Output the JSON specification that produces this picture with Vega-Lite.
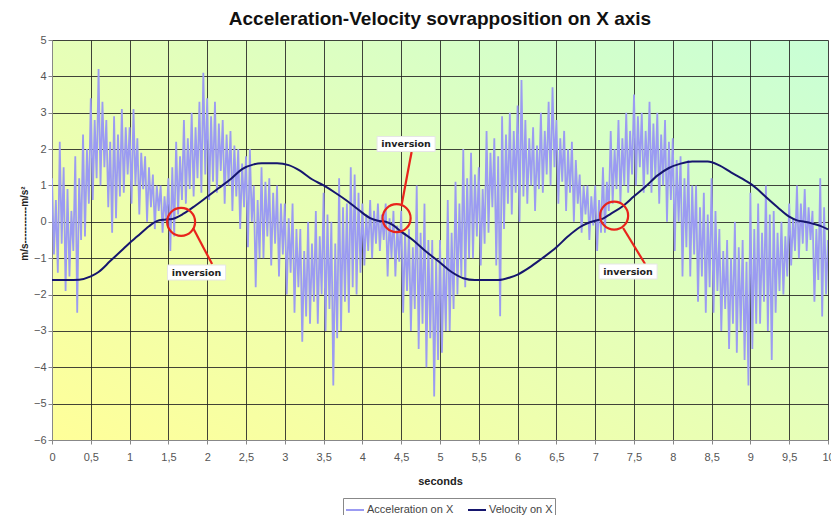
{
  "$schema": "https://vega.github.io/schema/vega-lite/v6.json",
  "width": 776,
  "height": 400,
  "autosize": {"type": "none"},
  "padding": {"left": 52, "top": 40, "right": 3, "bottom": 75},
  "background": "white",
  "view": {
    "stroke": null,
    "fill": {"gradient": "linear", "x1": 0, "y1": 1, "x2": 1, "y2": 0,
      "stops": [{"offset": 0, "color": "#ffff99"}, {"offset": 0.5, "color": "#e6ffb8"}, {"offset": 1, "color": "#c8ffd6"}]}
  },
  "title": {"text": "Acceleration-Velocity sovrapposition on X axis", "font": "Liberation Sans", "fontSize": 19, "fontWeight": "bold", "color": "#111111", "offset": 5, "anchor": "middle"},
  "config": {
    "font": "Liberation Sans",
    "axis": {"gridColor": "#222222", "gridOpacity": 0.85, "gridWidth": 1, "domainColor": "#888888", "tickColor": "#888888", "tickSize": 4, "labelColor": "#555555", "labelFontSize": 11, "labelFont": "Liberation Sans", "titleFont": "Liberation Sans", "titleFontWeight": "bold", "titleColor": "#222222", "labelOverlap": false},
    "axisX": {"tickCount": 20, "labelFlush": false, "labelPadding": 7, "titlePadding": 13, "titleFontSize": 11, "labelExpr": "replace(format(datum.value, ''), '.', ',')"},
    "axisY": {"tickCount": 11, "labelPadding": 2, "titlePadding": 4, "titleFontSize": 10}
  },
  "datasets": {
    "acc": [
      {"t":0,"a":1.2},{"t":0.025,"a":-0.9},{"t":0.05,"a":0.6},{"t":0.075,"a":-1.4},
      {"t":0.1,"a":2.2},{"t":0.125,"a":-0.6},{"t":0.15,"a":1.5},{"t":0.175,"a":-1.9},
      {"t":0.2,"a":0.9},{"t":0.225,"a":-1.5},{"t":0.25,"a":0.3},{"t":0.275,"a":-0.8},
      {"t":0.3,"a":1.8},{"t":0.325,"a":-2.5},{"t":0.35,"a":1.2},{"t":0.375,"a":-0.5},
      {"t":0.4,"a":2.4},{"t":0.425,"a":-0.4},{"t":0.45,"a":2.0},{"t":0.475,"a":0.5},
      {"t":0.5,"a":3.4},{"t":0.525,"a":0.6},{"t":0.55,"a":2.8},{"t":0.575,"a":1.2},
      {"t":0.6,"a":4.2},{"t":0.625,"a":1.0},{"t":0.65,"a":3.3},{"t":0.675,"a":1.5},
      {"t":0.7,"a":2.8},{"t":0.725,"a":0.4},{"t":0.75,"a":2.2},{"t":0.775,"a":-0.3},
      {"t":0.8,"a":2.9},{"t":0.825,"a":0.1},{"t":0.85,"a":2.4},{"t":0.875,"a":0.7},
      {"t":0.9,"a":3.1},{"t":0.925,"a":0.8},{"t":0.95,"a":2.6},{"t":0.975,"a":1.3},
      {"t":1.0,"a":2.6},{"t":1.025,"a":0.5},{"t":1.05,"a":3.1},{"t":1.075,"a":1.0},
      {"t":1.1,"a":2.3},{"t":1.125,"a":0.2},{"t":1.15,"a":1.9},{"t":1.175,"a":0.9},
      {"t":1.2,"a":1.8},{"t":1.225,"a":0.0},{"t":1.25,"a":1.5},{"t":1.275,"a":0.4},
      {"t":1.3,"a":1.3},{"t":1.325,"a":-0.2},{"t":1.35,"a":1.0},{"t":1.375,"a":0.3},
      {"t":1.4,"a":1.0},{"t":1.425,"a":-0.3},{"t":1.45,"a":0.7},{"t":1.475,"a":0.0},
      {"t":1.5,"a":1.2},{"t":1.525,"a":-0.8},{"t":1.55,"a":1.5},{"t":1.575,"a":-0.4},
      {"t":1.6,"a":2.2},{"t":1.625,"a":0.2},{"t":1.65,"a":1.8},{"t":1.675,"a":0.6},
      {"t":1.7,"a":2.8},{"t":1.725,"a":0.5},{"t":1.75,"a":2.3},{"t":1.775,"a":0.9},
      {"t":1.8,"a":3.0},{"t":1.825,"a":0.7},{"t":1.85,"a":2.6},{"t":1.875,"a":1.2},
      {"t":1.9,"a":3.3},{"t":1.925,"a":0.8},{"t":1.95,"a":4.1},{"t":1.975,"a":1.3},
      {"t":2.0,"a":3.4},{"t":2.025,"a":0.6},{"t":2.05,"a":2.9},{"t":2.075,"a":1.1},
      {"t":2.1,"a":3.3},{"t":2.125,"a":0.8},{"t":2.15,"a":2.7},{"t":2.175,"a":1.4},
      {"t":2.2,"a":2.8},{"t":2.225,"a":0.5},{"t":2.25,"a":2.4},{"t":2.275,"a":1.0},
      {"t":2.3,"a":2.5},{"t":2.325,"a":0.3},{"t":2.35,"a":2.1},{"t":2.375,"a":0.7},
      {"t":2.4,"a":2.0},{"t":2.425,"a":-0.2},{"t":2.45,"a":1.6},{"t":2.475,"a":0.4},
      {"t":2.5,"a":1.8},{"t":2.525,"a":-0.7},{"t":2.55,"a":2.0},{"t":2.575,"a":0.0},
      {"t":2.6,"a":1.0},{"t":2.625,"a":-1.8},{"t":2.65,"a":0.6},{"t":2.675,"a":-1.0},
      {"t":2.7,"a":1.5},{"t":2.725,"a":-1.0},{"t":2.75,"a":1.1},{"t":2.775,"a":-0.4},
      {"t":2.8,"a":1.2},{"t":2.825,"a":-1.2},{"t":2.85,"a":0.8},{"t":2.875,"a":-0.6},
      {"t":2.9,"a":1.0},{"t":2.925,"a":-1.5},{"t":2.95,"a":0.5},{"t":2.975,"a":-0.9},
      {"t":3.0,"a":0.5},{"t":3.025,"a":-2.0},{"t":3.05,"a":0.1},{"t":3.075,"a":-1.4},
      {"t":3.1,"a":0.5},{"t":3.125,"a":-2.5},{"t":3.15,"a":-0.2},{"t":3.175,"a":-1.8},
      {"t":3.2,"a":-0.2},{"t":3.225,"a":-3.3},{"t":3.25,"a":-0.8},{"t":3.275,"a":-2.6},
      {"t":3.3,"a":0.0},{"t":3.325,"a":-2.8},{"t":3.35,"a":-0.6},{"t":3.375,"a":-2.2},
      {"t":3.4,"a":0.3},{"t":3.425,"a":-2.8},{"t":3.45,"a":-0.4},{"t":3.475,"a":-2.0},
      {"t":3.5,"a":0.8},{"t":3.525,"a":-3.0},{"t":3.55,"a":0.2},{"t":3.575,"a":-2.4},
      {"t":3.6,"a":0.0},{"t":3.625,"a":-4.5},{"t":3.65,"a":-0.6},{"t":3.675,"a":-3.2},
      {"t":3.7,"a":1.2},{"t":3.725,"a":-3.0},{"t":3.75,"a":0.4},{"t":3.775,"a":-2.2},
      {"t":3.8,"a":0.5},{"t":3.825,"a":-2.5},{"t":3.85,"a":1.5},{"t":3.875,"a":-1.8},
      {"t":3.9,"a":1.3},{"t":3.925,"a":-2.0},{"t":3.95,"a":0.8},{"t":3.975,"a":-1.4},
      {"t":4.0,"a":0.5},{"t":4.025,"a":-1.2},{"t":4.05,"a":0.2},{"t":4.075,"a":-0.8},
      {"t":4.1,"a":0.6},{"t":4.125,"a":-1.0},{"t":4.15,"a":0.3},{"t":4.175,"a":-0.6},
      {"t":4.2,"a":0.5},{"t":4.225,"a":-0.8},{"t":4.25,"a":0.2},{"t":4.275,"a":-0.5},
      {"t":4.3,"a":0.5},{"t":4.325,"a":-1.5},{"t":4.35,"a":0.1},{"t":4.375,"a":-1.0},
      {"t":4.4,"a":0.3},{"t":4.425,"a":-1.5},{"t":4.45,"a":-0.1},{"t":4.475,"a":-1.1},
      {"t":4.5,"a":0.3},{"t":4.525,"a":-2.5},{"t":4.55,"a":-0.3},{"t":4.575,"a":-1.9},
      {"t":4.6,"a":-0.2},{"t":4.625,"a":-3.0},{"t":4.65,"a":-0.7},{"t":4.675,"a":-2.4},
      {"t":4.7,"a":1.0},{"t":4.725,"a":-3.5},{"t":4.75,"a":-0.3},{"t":4.775,"a":-2.8},
      {"t":4.8,"a":0.5},{"t":4.825,"a":-4.0},{"t":4.85,"a":-0.5},{"t":4.875,"a":-3.2},
      {"t":4.9,"a":-0.5},{"t":4.925,"a":-4.8},{"t":4.95,"a":-1.0},{"t":4.975,"a":-3.8},
      {"t":5.0,"a":-0.5},{"t":5.025,"a":-3.6},{"t":5.05,"a":-1.0},{"t":5.075,"a":-3.0},
      {"t":5.1,"a":0.6},{"t":5.125,"a":-3.0},{"t":5.15,"a":-0.3},{"t":5.175,"a":-2.4},
      {"t":5.2,"a":1.1},{"t":5.225,"a":-2.0},{"t":5.25,"a":0.5},{"t":5.275,"a":-1.5},
      {"t":5.3,"a":2.0},{"t":5.325,"a":-1.8},{"t":5.35,"a":1.2},{"t":5.375,"a":-1.0},
      {"t":5.4,"a":1.9},{"t":5.425,"a":-1.0},{"t":5.45,"a":1.3},{"t":5.475,"a":-0.4},
      {"t":5.5,"a":1.5},{"t":5.525,"a":-1.2},{"t":5.55,"a":0.9},{"t":5.575,"a":-0.6},
      {"t":5.6,"a":2.5},{"t":5.625,"a":-0.3},{"t":5.65,"a":1.9},{"t":5.675,"a":0.4},
      {"t":5.7,"a":2.3},{"t":5.725,"a":-1.2},{"t":5.75,"a":1.8},{"t":5.775,"a":-2.6},
      {"t":5.8,"a":2.9},{"t":5.825,"a":-0.2},{"t":5.85,"a":2.4},{"t":5.875,"a":0.5},
      {"t":5.9,"a":3.0},{"t":5.925,"a":0.2},{"t":5.95,"a":2.5},{"t":5.975,"a":0.8},
      {"t":6.0,"a":3.2},{"t":6.025,"a":0.0},{"t":6.05,"a":3.9},{"t":6.075,"a":0.7},
      {"t":6.1,"a":2.8},{"t":6.125,"a":0.5},{"t":6.15,"a":2.3},{"t":6.175,"a":1.0},
      {"t":6.2,"a":2.6},{"t":6.225,"a":0.3},{"t":6.25,"a":2.1},{"t":6.275,"a":0.9},
      {"t":6.3,"a":3.0},{"t":6.325,"a":0.8},{"t":6.35,"a":2.5},{"t":6.375,"a":1.3},
      {"t":6.4,"a":3.3},{"t":6.425,"a":1.0},{"t":6.45,"a":3.7},{"t":6.475,"a":1.5},
      {"t":6.5,"a":2.8},{"t":6.525,"a":0.5},{"t":6.55,"a":2.3},{"t":6.575,"a":1.1},
      {"t":6.6,"a":2.5},{"t":6.625,"a":0.3},{"t":6.65,"a":2.0},{"t":6.675,"a":0.8},
      {"t":6.7,"a":2.2},{"t":6.725,"a":0.0},{"t":6.75,"a":1.7},{"t":6.775,"a":0.5},
      {"t":6.8,"a":1.3},{"t":6.825,"a":-0.3},{"t":6.85,"a":1.0},{"t":6.875,"a":0.2},
      {"t":6.9,"a":1.0},{"t":6.925,"a":-0.5},{"t":6.95,"a":0.7},{"t":6.975,"a":-0.1},
      {"t":7.0,"a":1.0},{"t":7.025,"a":-0.8},{"t":7.05,"a":0.6},{"t":7.075,"a":-0.3},
      {"t":7.1,"a":1.5},{"t":7.125,"a":-0.3},{"t":7.15,"a":1.1},{"t":7.175,"a":0.3},
      {"t":7.2,"a":2.5},{"t":7.225,"a":0.5},{"t":7.25,"a":2.0},{"t":7.275,"a":0.9},
      {"t":7.3,"a":2.8},{"t":7.325,"a":0.5},{"t":7.35,"a":2.3},{"t":7.375,"a":1.0},
      {"t":7.4,"a":3.0},{"t":7.425,"a":0.8},{"t":7.45,"a":2.5},{"t":7.475,"a":1.3},
      {"t":7.5,"a":3.5},{"t":7.525,"a":1.0},{"t":7.55,"a":2.9},{"t":7.575,"a":1.5},
      {"t":7.6,"a":3.0},{"t":7.625,"a":0.8},{"t":7.65,"a":2.5},{"t":7.675,"a":1.3},
      {"t":7.7,"a":3.3},{"t":7.725,"a":0.8},{"t":7.75,"a":2.7},{"t":7.775,"a":1.2},
      {"t":7.8,"a":3.0},{"t":7.825,"a":0.5},{"t":7.85,"a":2.4},{"t":7.875,"a":1.0},
      {"t":7.9,"a":2.8},{"t":7.925,"a":0.0},{"t":7.95,"a":2.2},{"t":7.975,"a":0.6},
      {"t":8.0,"a":2.3},{"t":8.025,"a":-0.8},{"t":8.05,"a":1.7},{"t":8.075,"a":0.0},
      {"t":8.1,"a":1.8},{"t":8.125,"a":-1.5},{"t":8.15,"a":1.2},{"t":8.175,"a":-0.7},
      {"t":8.2,"a":1.7},{"t":8.225,"a":-1.5},{"t":8.25,"a":1.0},{"t":8.275,"a":-0.9},
      {"t":8.3,"a":1.0},{"t":8.325,"a":-2.2},{"t":8.35,"a":0.4},{"t":8.375,"a":-1.5},
      {"t":8.4,"a":0.8},{"t":8.425,"a":-2.5},{"t":8.45,"a":0.2},{"t":8.475,"a":-1.8},
      {"t":8.5,"a":1.2},{"t":8.525,"a":-2.5},{"t":8.55,"a":0.3},{"t":8.575,"a":-1.9},
      {"t":8.6,"a":-0.2},{"t":8.625,"a":-3.0},{"t":8.65,"a":-0.8},{"t":8.675,"a":-2.4},
      {"t":8.7,"a":-0.5},{"t":8.725,"a":-3.5},{"t":8.75,"a":-1.0},{"t":8.775,"a":-2.8},
      {"t":8.8,"a":0.0},{"t":8.825,"a":-3.6},{"t":8.85,"a":-0.7},{"t":8.875,"a":-3.0},
      {"t":8.9,"a":-0.5},{"t":8.925,"a":-3.8},{"t":8.95,"a":-1.1},{"t":8.975,"a":-4.5},
      {"t":9.0,"a":0.8},{"t":9.025,"a":-3.5},{"t":9.05,"a":-0.2},{"t":9.075,"a":-2.8},
      {"t":9.1,"a":0.5},{"t":9.125,"a":-2.8},{"t":9.15,"a":-0.3},{"t":9.175,"a":-2.2},
      {"t":9.2,"a":1.0},{"t":9.225,"a":-3.0},{"t":9.25,"a":0.2},{"t":9.275,"a":-3.8},
      {"t":9.3,"a":0.3},{"t":9.325,"a":-2.5},{"t":9.35,"a":-0.3},{"t":9.375,"a":-1.9},
      {"t":9.4,"a":0.0},{"t":9.425,"a":-2.0},{"t":9.45,"a":-0.4},{"t":9.475,"a":-1.5},
      {"t":9.5,"a":0.5},{"t":9.525,"a":-1.2},{"t":9.55,"a":0.1},{"t":9.575,"a":-0.8},
      {"t":9.6,"a":1.0},{"t":9.625,"a":-1.0},{"t":9.65,"a":0.5},{"t":9.675,"a":-0.6},
      {"t":9.7,"a":0.9},{"t":9.725,"a":-0.8},{"t":9.75,"a":0.4},{"t":9.775,"a":-0.5},
      {"t":9.8,"a":0.3},{"t":9.825,"a":-2.2},{"t":9.85,"a":-0.2},{"t":9.875,"a":-1.6},
      {"t":9.9,"a":1.2},{"t":9.925,"a":-2.6},{"t":9.95,"a":0.4},{"t":9.975,"a":-2.0},
      {"t":10.0,"a":-0.5}
    ],
    "vel": [
      {"t":0,"v":-1.6},{"t":0.2,"v":-1.6},{"t":0.35,"v":-1.59},{"t":0.5,"v":-1.5},{"t":0.6,"v":-1.38},
      {"t":0.75,"v":-1.08},{"t":0.9,"v":-0.78},{"t":1.0,"v":-0.58},{"t":1.1,"v":-0.4},{"t":1.25,"v":-0.12},
      {"t":1.35,"v":0.02},{"t":1.45,"v":0.06},{"t":1.55,"v":0.08},{"t":1.7,"v":0.23},{"t":1.85,"v":0.45},
      {"t":2.0,"v":0.69},{"t":2.15,"v":0.93},{"t":2.3,"v":1.17},{"t":2.45,"v":1.45},{"t":2.6,"v":1.58},
      {"t":2.7,"v":1.61},{"t":2.9,"v":1.61},{"t":3.05,"v":1.56},{"t":3.2,"v":1.4},{"t":3.35,"v":1.17},
      {"t":3.5,"v":1.0},{"t":3.65,"v":0.8},{"t":3.8,"v":0.58},{"t":3.95,"v":0.33},{"t":4.1,"v":0.1},
      {"t":4.2,"v":0.03},{"t":4.3,"v":0.0},{"t":4.4,"v":-0.1},{"t":4.5,"v":-0.27},{"t":4.65,"v":-0.5},
      {"t":4.8,"v":-0.78},{"t":5.0,"v":-1.12},{"t":5.15,"v":-1.38},{"t":5.3,"v":-1.55},{"t":5.45,"v":-1.6},
      {"t":5.75,"v":-1.6},{"t":5.9,"v":-1.53},{"t":6.0,"v":-1.45},{"t":6.15,"v":-1.26},{"t":6.3,"v":-1.03},
      {"t":6.5,"v":-0.7},{"t":6.65,"v":-0.4},{"t":6.8,"v":-0.15},{"t":6.9,"v":-0.04},{"t":7.0,"v":0.03},
      {"t":7.1,"v":0.09},{"t":7.2,"v":0.22},{"t":7.35,"v":0.42},{"t":7.5,"v":0.7},{"t":7.65,"v":0.97},
      {"t":7.8,"v":1.27},{"t":7.95,"v":1.48},{"t":8.1,"v":1.6},{"t":8.25,"v":1.66},{"t":8.45,"v":1.66},
      {"t":8.6,"v":1.55},{"t":8.75,"v":1.36},{"t":8.9,"v":1.18},{"t":9.0,"v":1.05},{"t":9.1,"v":0.88},
      {"t":9.2,"v":0.68},{"t":9.35,"v":0.4},{"t":9.5,"v":0.14},{"t":9.6,"v":0.04},{"t":9.7,"v":0.0},
      {"t":9.8,"v":-0.05},{"t":9.9,"v":-0.11},{"t":10.0,"v":-0.21}
    ],
    "circles": [
      {"t":1.664,"v":0.0},{"t":4.441,"v":0.1},{"t":7.244,"v":0.17}
    ],
    "leaders": [
      {"t":1.818,"v":-0.17,"t2":2.063,"v2":-1.16},
      {"t":4.508,"v":0.49,"t2":4.634,"v2":1.92},
      {"t":7.36,"v":-0.17,"t2":7.643,"v2":-1.16}
    ],
    "labels": [
      {"t":1.489,"t2":2.237,"v":-1.6,"v2":-1.188,"tc":1.863,"vc":-1.394,"label":"inversion"},
      {"t":4.189,"t2":4.937,"v":1.934,"v2":2.346,"tc":4.563,"vc":2.14,"label":"inversion"},
      {"t":7.05,"t2":7.798,"v":-1.573,"v2":-1.161,"tc":7.424,"vc":-1.367,"label":"inversion"}
    ]
  },
  "layer": [
    {
      "data": {"name": "acc"},
      "mark": {"type": "line", "strokeWidth": 1.8, "clip": true},
      "encoding": {
        "x": {"field": "t", "type": "quantitative",
          "scale": {"domain": [0, 10], "nice": false, "zero": false},
          "axis": {"title": "seconds"}},
        "y": {"field": "a", "type": "quantitative",
          "scale": {"domain": [-6, 5], "nice": false, "zero": false},
          "axis": {"title": "m/s-----------m/s²", "titleY": 183}},
        "color": {"datum": "Acceleration on X", "type": "nominal",
          "scale": {"domain": ["Acceleration on X", "Velocity on X"], "range": ["#9b9bf2", "#16166e"]},
          "legend": {"title": null, "orient": "none", "legendX": 291, "legendY": 458, "direction": "horizontal",
            "strokeColor": "#888888", "padding": 2, "fillColor": "white", "symbolType": "stroke", "symbolSize": 324,
            "symbolStrokeWidth": 2, "labelFontSize": 11, "labelColor": "#444444", "labelFont": "Liberation Sans",
            "columnPadding": 10, "labelOffset": 2}}
      }
    },
    {
      "data": {"name": "vel"},
      "mark": {"type": "line", "strokeWidth": 2, "interpolate": "monotone"},
      "encoding": {
        "x": {"field": "t", "type": "quantitative"},
        "y": {"field": "v", "type": "quantitative"},
        "color": {"datum": "Velocity on X", "type": "nominal"}
      }
    },
    {
      "data": {"name": "circles"},
      "mark": {"type": "point", "shape": "circle", "filled": false, "size": 784, "stroke": "#e8241c", "strokeWidth": 2.2, "opacity": 1},
      "encoding": {
        "x": {"field": "t", "type": "quantitative"},
        "y": {"field": "v", "type": "quantitative"}
      }
    },
    {
      "data": {"name": "leaders"},
      "mark": {"type": "rule", "stroke": "#e8241c", "strokeWidth": 2.2},
      "encoding": {
        "x": {"field": "t", "type": "quantitative"},
        "y": {"field": "v", "type": "quantitative"},
        "x2": {"field": "t2"},
        "y2": {"field": "v2"}
      }
    },
    {
      "data": {"name": "labels"},
      "mark": {"type": "rect", "fill": "white", "stroke": "#e6e6e6", "strokeWidth": 1},
      "encoding": {
        "x": {"field": "t", "type": "quantitative"},
        "x2": {"field": "t2"},
        "y": {"field": "v", "type": "quantitative"},
        "y2": {"field": "v2"}
      }
    },
    {
      "data": {"name": "labels"},
      "mark": {"type": "text", "font": "DejaVu Sans", "fontSize": 9.5, "fontWeight": "bold", "color": "#222222", "align": "center", "baseline": "middle"},
      "encoding": {
        "x": {"field": "tc", "type": "quantitative"},
        "y": {"field": "vc", "type": "quantitative"},
        "text": {"field": "label"}
      }
    }
  ]
}
